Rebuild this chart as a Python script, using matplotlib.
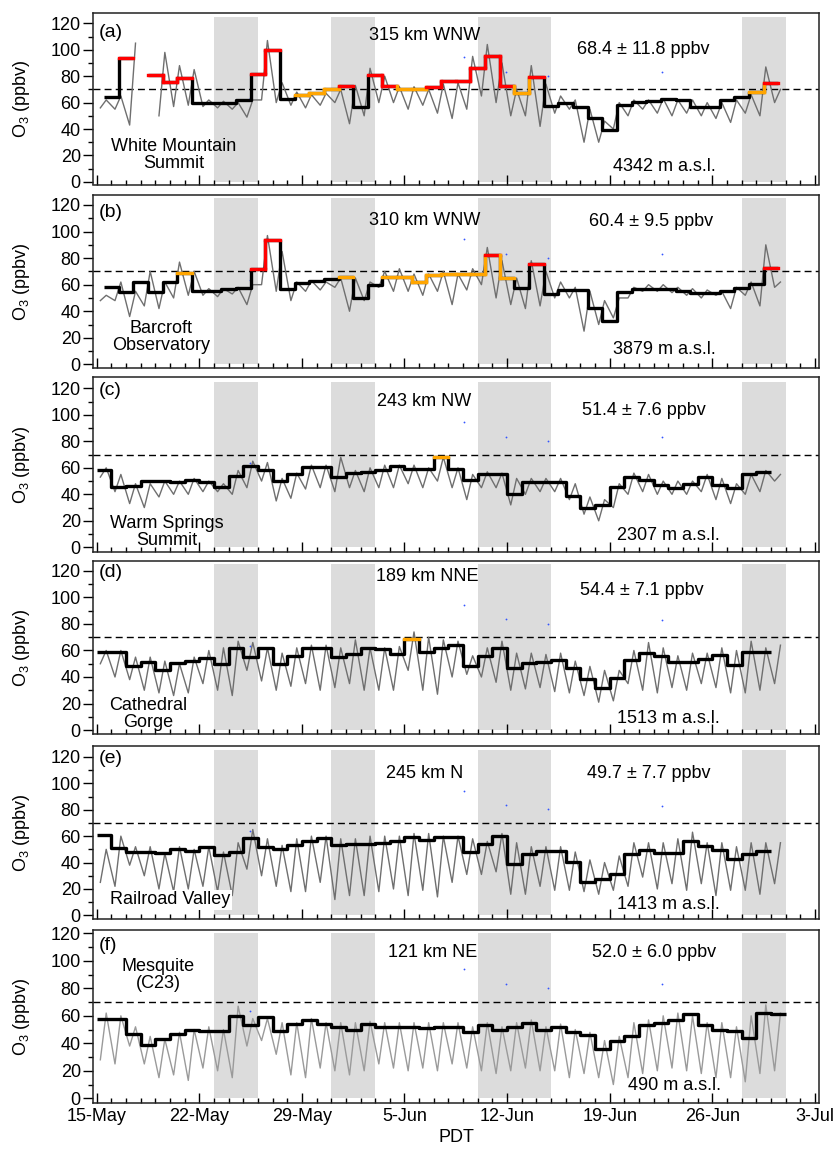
import numpy as np
import matplotlib
matplotlib.use("Agg")
import matplotlib.pyplot as plt
from matplotlib.ticker import MultipleLocator, FixedLocator

plt.rcParams['font.family'] = ['Liberation Sans', 'DejaVu Sans']
plt.rcParams['mathtext.default'] = 'regular'

nan = np.nan

# ---------------- data ----------------
tick_days = [0, 7, 14, 21, 28, 35, 42, 49]
tick_labels = ['15-May', '22-May', '29-May', '5-Jun', '12-Jun', '19-Jun', '26-Jun', '3-Jul']

shade_start = [8, 16, 26, 44]
shade_end = [11, 19, 31, 47]

blue_x = [10.45, 25.07, 27.95, 30.8, 38.57]
blue_y = [63.7, 94.3, 83.4, 80.2, 83.1]

panel_labels = ['(a)', '(b)', '(c)', '(d)', '(e)', '(f)']
distances = ['315 km WNW', '310 km WNW', '243 km NW', '189 km NNE', '245 km N', '121 km NE']
means = ['68.4 \u00b1 11.8 ppbv', '60.4 \u00b1 9.5 ppbv', '51.4 \u00b1 7.6 ppbv',
         '54.4 \u00b1 7.1 ppbv', '49.7 \u00b1 7.7 ppbv', '52.0 \u00b1 6.0 ppbv']
altitudes = ['4342 m a.s.l.', '3879 m a.s.l.', '2307 m a.s.l.', '1513 m a.s.l.',
             '1413 m a.s.l.', '490 m a.s.l.']
stations = ['White Mountain\nSummit', 'Barcroft\nObservatory', 'Warm Springs\nSummit',
            'Cathedral\nGorge', 'Railroad Valley', 'Mesquite\n(C23)']

# daily 8-h maxima (step line), one value per day
mda8_a = [nan, 64, 94, nan, 81, 75.5, 78.5, 60, 59.5, 59.5, 62, 82, 100, 63, 65.7, 67.4, 70, 72.5,
          57, 81, 72.5, 70, 70, 71.5, 76, 76, 86, 95, 72.5, 67, 79, 57.5, 60, 57, 48, 39, 58,
          60.6, 61.4, 62.6, 62, 57, 57, 62, 64.4, 68, 75]
flag_a = [0, 0, 2, 0, 2, 2, 2, 0, 0, 0, 0, 2, 2, 0, 1, 1, 1, 2, 0, 2, 2, 1, 1, 2, 2, 2, 2, 2, 2, 1,
          2, 0, 0, 0, 0, 0, 0, 0, 0, 0, 0, 0, 0, 0, 0, 1, 2]
mda8_b = [nan, 58.5, 54.3, 61.8, 54.3, 61.8, 68.6, 55.3, 55.3, 57, 57.5, 72, 93.7, 56.8, 61, 62.8,
          64.3, 66, 49.7, 59.8, 65.5, 65.5, 62.3, 67.5, 68, 68, 68, 82, 65.3, 57.3, 75.4, 52.8, 56,
          56, 42.7, 32.7, 54.3, 56.8, 56.8, 56.8, 55.3, 53.5, 53.5, 55.3, 57.8, 60.3, 72.4]
flag_b = [0, 0, 0, 0, 0, 0, 1, 0, 0, 0, 0, 2, 2, 0, 0, 0, 0, 1, 0, 0, 1, 1, 1, 1, 1, 1, 1, 2, 1, 0,
          2, 0, 0, 0, 0, 0, 0, 0, 0, 0, 0, 0, 0, 0, 0, 0, 2]
mda8_c = [58.5, 45.5, 46.5, 50, 50, 49, 51, 49, 45.5, 54, 61, 58, 50, 55, 60.5, 60.5, 53.3, 56, 57,
          58, 61.5, 59, 59, 68.5, 59, 51, 55, 55, 40, 49.6, 49, 49, 38.7, 29.4, 32, 45.8, 53.3,
          50.8, 47, 44.5, 47.8, 52.8, 47, 44.5, 55, 57]
flag_c = [0] * 23 + [1] + [0] * 22
mda8_d = [59, 59, 48, 51, 45.5, 50.5, 52, 54, 50, 62, 55, 62, 49.5, 56, 62, 62, 55, 57, 62, 61,
          57.5, 69, 59, 61.5, 64.5, 48, 55.5, 61.5, 46.5, 50.5, 51.5, 53, 46.5, 38.5, 32, 39.5,
          53, 58, 55.5, 51.5, 51.5, 53.5, 56.5, 49, 58.5, 58.5]
flag_d = [0] * 21 + [1] + [0] * 24
mda8_e = [61, 51, 48, 48, 47, 50, 49, 52, 46, 48, 58.5, 52, 50, 53, 56, 58.5, 53, 54, 54, 55, 56,
          59, 57, 59.3, 59.3, 48, 54.3, 59.8, 38.6, 46.7, 48.7, 48.7, 40.4, 25.2, 27.8, 31.1,
          46.7, 49.2, 47.2, 47, 56.3, 52.3, 49.2, 42.9, 46.7, 48.7]
flag_e = [0] * 46
mda8_f = [58, 58, 47, 39, 43, 47, 50, 49, 49, 60, 53, 59, 49, 54, 57, 54, 51.5, 50, 54, 52, 51.5,
          52, 51, 52, 52, 48, 53, 50, 52, 55, 50, 52, 48, 46, 36, 42, 45, 53, 55, 57, 61, 53, 50,
          49, 44, 62, 61]
flag_f = [0] * 47

# hourly O3 summarised by daily minimum (early morning) and maximum (afternoon)
min_a = [56, 55, 43, nan, 50, 57, 58, 57, 56, 55, 49, 62, 60, 58, 56, 58, 60, 44, 50, 60, 60, 55,
         58, 52, 48, 55, 65, 60, 50, 50, 42, 52, 55, 30, 30, 40, 50, 55, 52, 50, 52, 50, 48, 45,
         52, 50, 60]
max_a = [62, 65, 105, nan, 98, 88, 85, 62, 61, 60, 62, 107, 75, 68, 66, 67, 70, 73, 86, 80, 72, 72,
         70, 74, 75, 95, 104, 90, 70, 88, 74, 65, 62, 55, 46, 60, 62, 62, 63, 62, 62, 60, 60, 62,
         66, 87, 70]
min_b = [48, 48, 36, 44, 42, 50, 52, 52, 51, 53, 45, 60, 55, 48, 55, 56, 58, 40, 48, 58, 55, 55,
         52, 55, 45, 56, 60, 50, 45, 42, 44, 50, 50, 25, 30, 35, 50, 55, 55, 54, 52, 50, 52, 42,
         52, 44, 58]
max_b = [52, 62, 55, 70, 62, 77, 70, 57, 57, 58, 60, 97, 85, 62, 63, 62, 65, 65, 62, 70, 72, 68,
         68, 70, 68, 72, 88, 78, 65, 78, 70, 62, 58, 55, 48, 50, 58, 60, 60, 58, 57, 56, 55, 58,
         62, 90, 62]
min_c = [53, 42, 33, 30, 38, 40, 40, 42, 42, 40, 45, 50, 35, 37, 44, 45, 42, 45, 42, 45, 45, 48,
         45, 50, 45, 36, 45, 45, 32, 40, 42, 42, 36, 25, 20, 30, 40, 42, 40, 40, 40, 42, 36, 33,
         40, 42, 50]
max_c = [60, 55, 48, 48, 50, 50, 52, 50, 48, 58, 65, 64, 52, 56, 62, 62, 68, 58, 60, 62, 62, 62,
         60, 68, 60, 55, 57, 56, 52, 52, 52, 52, 48, 38, 36, 48, 56, 55, 50, 50, 50, 55, 52, 48,
         55, 58, 55]
min_d = [50, 40, 38, 30, 28, 26, 28, 35, 30, 26, 45, 37, 30, 33, 35, 30, 32, 35, 30, 30, 30, 45,
         30, 27, 40, 42, 40, 36, 30, 31, 32, 29, 28, 26, 21, 22, 35, 30, 28, 32, 30, 35, 32, 28,
         28, 30, 35]
max_d = [60, 60, 55, 55, 52, 50, 55, 60, 62, 67, 66, 62, 58, 62, 64, 64, 62, 68, 62, 62, 63, 74,
         70, 68, 67, 56, 62, 67, 58, 58, 57, 58, 52, 48, 45, 45, 60, 66, 62, 56, 58, 58, 62, 60,
         67, 62, 64]
min_e = [25, 22, 38, 30, 20, 18, 20, 22, 18, 15, 35, 30, 22, 18, 18, 25, 12, 15, 15, 18, 20, 15,
         19, 14, 25, 31, 31, 33, 16, 16, 22, 19, 19, 18, 16, 19, 22, 29, 20, 24, 19, 24, 15, 19,
         19, 16, 24]
max_e = [50, 60, 52, 52, 47, 52, 50, 52, 48, 55, 65, 58, 53, 58, 60, 60, 58, 58, 60, 60, 60, 62,
         62, 60, 60, 58, 56, 62, 55, 52, 52, 52, 48, 42, 40, 45, 55, 55, 55, 58, 63, 55, 55, 52,
         55, 55, 55]
min_f = [28, 25, 38, 25, 15, 17, 13, 22, 20, 15, 38, 42, 32, 17, 15, 22, 20, 17, 20, 25, 22, 20,
         22, 20, 25, 22, 20, 18, 20, 22, 20, 20, 15, 18, 15, 10, 15, 18, 20, 22, 20, 18, 15, 15,
         12, 18, 20]
max_f = [62, 60, 52, 45, 43, 48, 50, 52, 50, 67, 58, 58, 55, 55, 58, 55, 55, 55, 56, 55, 55, 55,
         55, 55, 55, 52, 55, 52, 55, 57, 52, 54, 50, 48, 42, 45, 55, 57, 60, 62, 60, 55, 55, 52,
         60, 68, 62]

mda8_all = [mda8_a, mda8_b, mda8_c, mda8_d, mda8_e, mda8_f]
flag_all = [flag_a, flag_b, flag_c, flag_d, flag_e, flag_f]
min_all = [min_a, min_b, min_c, min_d, min_e, min_f]
max_all = [max_a, max_b, max_c, max_d, max_e, max_f]

# ---------------- layout / style ----------------
W, H = 836, 1155
left_px, right_px = 93.3, 819.3
tops = [13.3, 195, 377.3, 561, 746.3, 930]
bots = [184.5, 367.7, 551.7, 734, 918.7, 1102.7]
ylims = [(-2, 127.6), (-2.5, 127.5), (-3.3, 128.3), (-3, 127.5), (-2.5, 128), (-3.2, 122.4)]
shade_top = [125, 125, 125, 125, 125, 120]
step_offset = [-0.5, -0.5, 0, 0, 0, 0]
gray_col = ['#6f6f6f'] * 5 + ['#9a9a9a']
flag_col = {1: '#ffa500', 2: '#ff0000'}

label_y = [0.889, 0.896, 0.923, 0.935, 0.928, 0.913]
dist_x = [0.457, 0.457, 0.456, 0.46, 0.456, 0.468]
dist_y = [0.873, 0.855, 0.86, 0.909, 0.841, 0.867]
mean_x = [0.758, 0.768, 0.758, 0.755, 0.765, 0.773]
mean_y = [0.786, 0.845, 0.81, 0.832, 0.841, 0.867]
alt_x = [0.787, 0.787, 0.792, 0.792, 0.792, 0.80]
alt_y = [0.104, 0.108, 0.092, 0.087, 0.081, 0.097]
st_x = [0.111, 0.093, 0.101, 0.076, 0.106, 0.089]
st_y = [0.172, 0.175, 0.113, 0.116, 0.11, 0.74]

FS = 13

fig = plt.figure(figsize=(W / 100, H / 100), dpi=100)

for i in range(6):
    ax = fig.add_axes([left_px / W, 1 - bots[i] / H, (right_px - left_px) / W,
                       (bots[i] - tops[i]) / H])
    ax.set_xlim(-0.23, 49.3)
    ax.set_ylim(*ylims[i])

    for s, e in zip(shade_start, shade_end):
        ax.fill_between([s, e], 0, shade_top[i], color='#dcdcdc', lw=0, zorder=0)

    ax.axhline(70, color='k', lw=1.0, ls=(0, (5, 3)), zorder=2)

    ax.plot(blue_x, blue_y, 'o', ms=1.3, mew=0, color='#3355ff', zorder=1)

    # gray hourly-like trace
    days = np.arange(len(min_all[i]))
    t = np.column_stack([days + 0.25, days + 0.65]).ravel()
    v = np.column_stack([min_all[i], max_all[i]]).ravel()
    ax.plot(t, v, color=gray_col[i], lw=1.0, zorder=3)

    # black step line
    vals = np.array(mda8_all[i], dtype=float)
    n = len(vals)
    edges = np.arange(n + 1) + step_offset[i]
    xs = np.repeat(edges, 2)[1:-1]
    ys = np.repeat(vals, 2)
    ax.plot(xs, ys, color='k', lw=2.4, zorder=4, solid_capstyle='butt')

    # coloured exceedance segments
    fl = flag_all[i]
    for k in range(n):
        if fl[k] > 0:
            ax.plot([edges[k], edges[k + 1]], [vals[k], vals[k]], color=flag_col[fl[k]],
                    lw=2.4, zorder=5, solid_capstyle='projecting')
            if k + 1 < n and fl[k + 1] > 0:
                ax.plot([edges[k + 1], edges[k + 1]], [vals[k], vals[k + 1]],
                        color=flag_col[min(fl[k], fl[k + 1])], lw=2.4, zorder=5,
                        solid_capstyle='projecting')

    # ticks
    ax.xaxis.set_major_locator(FixedLocator(tick_days))
    ax.xaxis.set_minor_locator(MultipleLocator(1))
    ax.yaxis.set_major_locator(MultipleLocator(20))
    ax.yaxis.set_minor_locator(MultipleLocator(10))
    ax.tick_params(axis='x', which='major', direction='in', length=7, width=1.0)
    ax.tick_params(axis='x', which='minor', direction='in', length=3.5, width=1.0)
    ax.tick_params(axis='y', which='major', direction='out', length=7, width=1.0,
                   labelsize=FS, pad=2)
    ax.tick_params(axis='y', which='minor', direction='out', length=3.5, width=1.0)
    if i == 5:
        ax.set_xticklabels(tick_labels, fontsize=FS)
        ax.tick_params(axis='x', which='major', pad=4)
    else:
        ax.tick_params(axis='x', labelbottom=False)
    for sp in ax.spines.values():
        sp.set_linewidth(1.1)
        sp.set_color('#222222')

    tr = ax.transAxes
    ax.text(0.008, label_y[i], panel_labels[i], transform=tr, fontsize=14,
            ha='left', va='center', zorder=6)
    ax.text(dist_x[i], dist_y[i], distances[i], transform=tr, fontsize=FS,
            ha='center', va='center', zorder=6)
    ax.text(mean_x[i], mean_y[i], means[i], transform=tr, fontsize=FS,
            ha='center', va='center', zorder=6)
    ax.text(alt_x[i], alt_y[i], altitudes[i], transform=tr, fontsize=FS,
            ha='center', va='center', zorder=6)
    bbox = dict(facecolor='white', edgecolor='none', pad=1) if i == 4 else None
    ax.text(st_x[i], st_y[i], stations[i], transform=tr, fontsize=FS, ha='center',
            va='center', multialignment='center', linespacing=1.0, zorder=6, bbox=bbox)

    fig.text(22 / W, 1 - (tops[i] + bots[i]) / 2 / H, 'O$_3$ (ppbv)', rotation=90,
             fontsize=FS, ha='center', va='center')

fig.text((left_px + right_px) / 2 / W, 1 - 1138 / H, 'PDT', fontsize=FS, ha='center',
         va='center')

fig.savefig('out.png', dpi=100)
